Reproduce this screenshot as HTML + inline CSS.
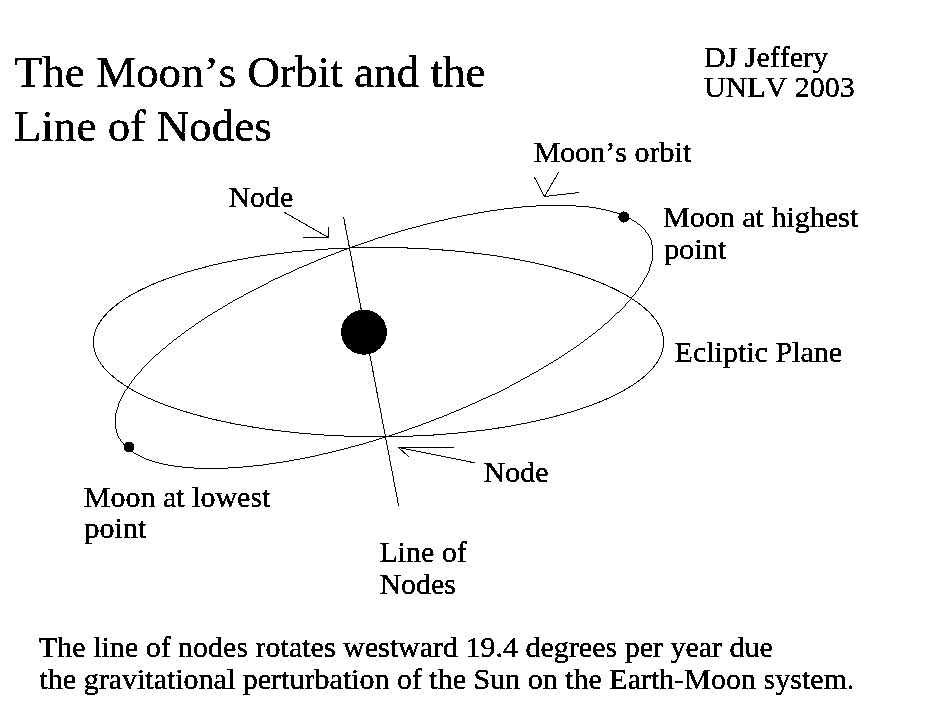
<!DOCTYPE html>
<html><head><meta charset="utf-8"><style>
html,body{margin:0;padding:0;background:#fff;width:931px;height:711px;overflow:hidden}
svg{display:block}
text{font-family:"Liberation Serif",serif;fill:#000;font-kerning:none}
</style></head><body>
<svg width="931" height="711" viewBox="0 0 931 711">
<defs><filter id="th" x="0" y="0" width="931" height="711" filterUnits="userSpaceOnUse" color-interpolation-filters="sRGB"><feComponentTransfer><feFuncR type="discrete" tableValues="0"/><feFuncG type="discrete" tableValues="0"/><feFuncB type="discrete" tableValues="0"/><feFuncA type="discrete" tableValues="0 1 1 1"/></feComponentTransfer></filter></defs>
<rect width="931" height="711" fill="#fff"/>
<g filter="url(#th)">
<g font-size="45.1">
<text x="14.6" y="87">The Moon’s Orbit and the</text>
<text x="13.8" y="140.5">Line of Nodes</text>
</g>
<g font-size="30">
<text x="703.9" y="66.7">DJ Jeffery</text>
<text x="703.9" y="96.5">UNLV 2003</text>
<text x="533.7" y="161.5">Moon’s orbit</text>
<text x="228.4" y="206.9">Node</text>
<text x="663.1" y="226.9">Moon at highest</text>
<text x="664.3" y="258.8">point</text>
<text x="674.6" y="362">Ecliptic Plane</text>
<text x="483.6" y="481.6">Node</text>
<text x="83.8" y="506.6">Moon at lowest</text>
<text x="84.6" y="538.4">point</text>
<text x="379.4" y="562.1">Line of</text>
<text x="379.4" y="594">Nodes</text>
<text x="39" y="657.2">The line of nodes rotates westward 19.4 degrees per year due</text>
<text x="39.5" y="688.8">the gravitational perturbation of the Sun on the Earth-Moon system.</text>
</g>
</g>
<g fill="none" stroke="#000" stroke-width="1" shape-rendering="crispEdges">
<ellipse cx="378.55" cy="342.15" rx="285.15" ry="94.65"/>
<ellipse cx="0" cy="0" rx="283.9" ry="95.4" transform="translate(384 336.9) rotate(-19.84)"/>
<line x1="343.6" y1="217.1" x2="398.7" y2="506.3"/>
<polyline points="284.5,212.5 328.5,237.5 328.5,226.8"/>
<line x1="302.6" y1="237.5" x2="328.5" y2="237.5"/>
<polyline points="534.5,177.5 544.5,196.5 558.5,172.5"/>
<line x1="544.5" y1="196.5" x2="579" y2="192.5"/>
<polyline points="474.5,462.8 398.5,447.5 453.5,447.5"/>
<line x1="398.5" y1="447.5" x2="409.6" y2="457.4"/>
</g>
<g shape-rendering="crispEdges">
<ellipse cx="364" cy="332.1" rx="22.9" ry="22.6" fill="#000"/>
<circle cx="623.9" cy="217" r="5.6" fill="#000"/>
<circle cx="128.9" cy="447" r="5.4" fill="#000"/>
</g>
</svg>
</body></html>
